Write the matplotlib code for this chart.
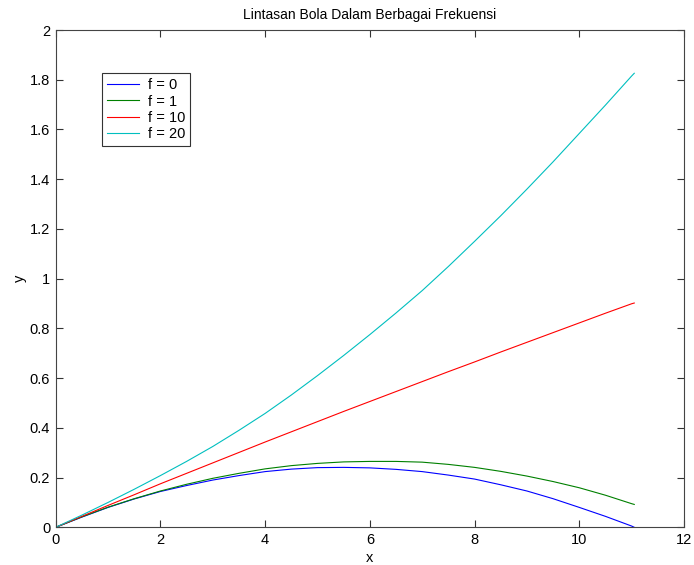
import matplotlib
matplotlib.use("Agg")
import matplotlib.pyplot as plt

plt.rcParams['font.family'] = ['Liberation Sans', 'DejaVu Sans']

x = [0, 0.5, 1, 1.5, 2, 2.5, 3, 3.5, 4, 4.5, 5, 5.5, 6, 6.5, 7, 7.5, 8, 8.5,
     9, 9.5, 10, 10.5, 11, 11.05]
y_f0 = [0, 0.041, 0.080, 0.114, 0.144, 0.168, 0.190, 0.208, 0.224, 0.234, 0.240, 0.241,
        0.239, 0.233, 0.224, 0.210, 0.194, 0.171, 0.146, 0.115, 0.080, 0.044, 0.005, 0.0]
y_f1 = [0, 0.042, 0.081, 0.115, 0.146, 0.173, 0.197, 0.217, 0.235, 0.248, 0.257, 0.263,
        0.265, 0.265, 0.262, 0.253, 0.241, 0.225, 0.206, 0.184, 0.159, 0.129, 0.095, 0.092]
y_f10 = [0, 0.044, 0.088, 0.131, 0.175, 0.217, 0.259, 0.301, 0.343, 0.384, 0.425, 0.466,
         0.506, 0.546, 0.586, 0.626, 0.665, 0.705, 0.744, 0.783, 0.822, 0.861, 0.899, 0.902]
y_f20 = [0, 0.049, 0.100, 0.153, 0.208, 0.265, 0.325, 0.390, 0.458, 0.532, 0.610, 0.691,
         0.775, 0.862, 0.952, 1.049, 1.150, 1.253, 1.360, 1.470, 1.584, 1.698, 1.815, 1.826]

labels = ['f = 0', 'f = 1', 'f = 10', 'f = 20']
colors = ['#0000ff', '#008000', '#ff0000', '#00bfbf']
series = [y_f0, y_f1, y_f10, y_f20]

title = 'Lintasan Bola Dalam Berbagai Frekuensi'
xticks = [0, 2, 4, 6, 8, 10, 12]
yticks = [0, 0.2, 0.4, 0.6, 0.8, 1, 1.2, 1.4, 1.6, 1.8, 2]
yticklabels = ['0', '0.2', '0.4', '0.6', '0.8', '1', '1.2', '1.4', '1.6', '1.8', '2']

W, H = 694, 565
fig = plt.figure(figsize=(W / 100, H / 100), dpi=100)
ax = fig.add_axes([55.7 / W, 1 - 527.3 / H, (684 - 55.7) / W, (527.3 - 30) / H])

for ys, c, lab in zip(series, colors, labels):
    ax.plot(x, ys, color=c, lw=0.8, label=lab)

ax.set_xlim(0, 12)
ax.set_ylim(0, 2)
ax.set_xticks(xticks)
ax.set_yticks(yticks)
ax.set_yticklabels(yticklabels)
ax.tick_params(direction='in', length=5, width=0.8, top=True, right=True,
               labelsize=10.5, colors='#333333', labelcolor='black', pad=4)
for s in ax.spines.values():
    s.set_color('#444444')
    s.set_linewidth(0.8)

ax.set_title(title, fontsize=10, pad=8)
ax.set_xlabel('x', fontsize=10.5, labelpad=3)
ax.set_ylabel('y', fontsize=10.5, labelpad=2)

leg = ax.legend(loc='upper left', bbox_to_anchor=(101.7 / W, 1 - 73.3 / H),
                bbox_transform=fig.transFigure, borderaxespad=0, fontsize=10.5,
                frameon=True, fancybox=False, framealpha=1, edgecolor='#333333',
                handlelength=2.2, handletextpad=0.6, labelspacing=0.15,
                borderpad=0.35)
leg.get_frame().set_linewidth(0.8)

fig.savefig('out.png', dpi=100)
